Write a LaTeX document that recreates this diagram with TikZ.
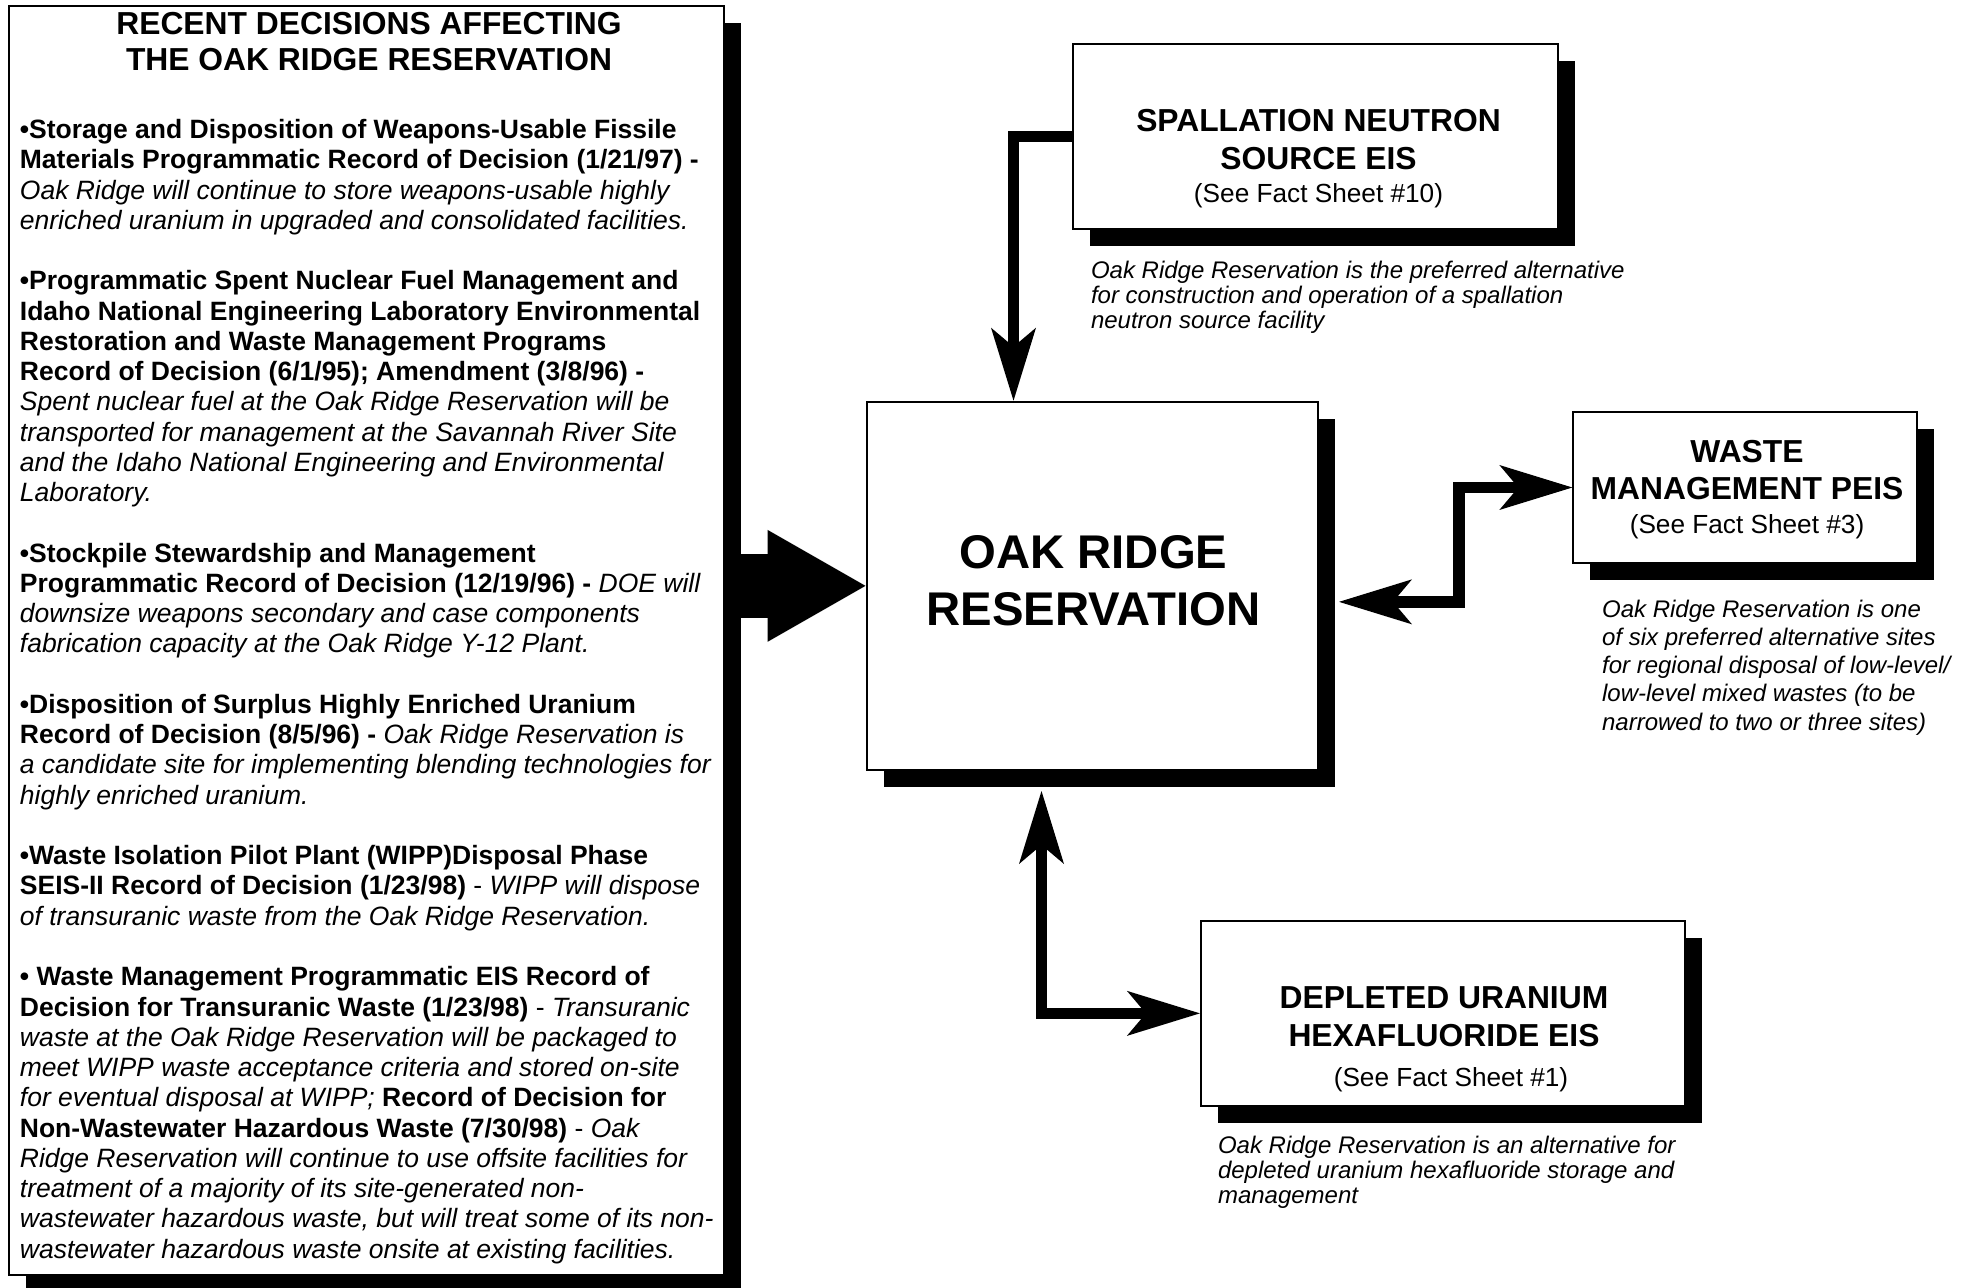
\documentclass[tikz,border=0pt]{standalone}
\usepackage{fontspec}
\setmainfont{Liberation Sans}
\usetikzlibrary{arrows.meta,shadows}
\newcommand\kopff{\fontsize{15.9}{19}\selectfont\bfseries}
\newcommand\zusatzf{\fontsize{13.1}{15}\selectfont}
\newcommand\notizf{\fontsize{12}{12.5}\selectfont\itshape}
\newcommand\listef{\fontsize{13.25}{15.13}\selectfont}
\newcommand\mittef{\fontsize{23.65}{28.35}\selectfont\bfseries}
\newcommand\fett[1]{{\bfseries #1}}
\newcommand\zusatz[4]{\node[anchor=base,inner sep=0,font=\zusatzf] (#1) at (#2,#3) {#4};}

\begin{document}
\begin{tikzpicture}[x=0.5pt,y=-0.5pt]
\useasboundingbox (0,0) rectangle (1969,1288);
\tikzset{kasten/.style={draw=black,line width=1pt,fill=white,inner sep=0,
    drop shadow={fill=black,opacity=1,shadow xshift=8.5pt,shadow yshift=-8.5pt}},
  kopf/.style={anchor=base,inner sep=0,align=center,font=\kopff},
  notiz/.style={anchor=base west,inner sep=0,align=left,font=\notizf},
  pfeil/.style={line width=5.75pt,-{Stealth[length=36.5pt,width=22.5pt,inset=9.5pt,line width'=0pt]}},
  pfeilb/.style={pfeil,{Stealth[length=36.5pt,width=22.5pt,inset=9.5pt,line width'=0pt]}-{Stealth[length=36.5pt,width=22.5pt,inset=9.5pt,line width'=0pt]}},
  blockpfeil/.style={line width=31.7pt,-{Triangle[length=49pt,width=56pt,line width'=0pt]}}}

% ---- Kaesten mit Schatten ----------------------------------------------------
\node[kasten,minimum width=357.5pt,minimum height=634.5pt] (nliste) at (366,640.5) {};
\node[kasten,minimum width=242.6pt,minimum height=92.75pt] (nsns) at (1315.4,136.75) {};
\node[kasten,minimum width=225.75pt,minimum height=184.15pt] (nor) at (1092.25,585.85) {};
\node[kasten,minimum width=171.7pt,minimum height=75.8pt] (nabfall) at (1745,487.5) {};
\node[kasten,minimum width=242.25pt,minimum height=92.35pt] (nuf6) at (1443.15,1013.35) {};

% ---- Pfeile -----------------------------------------------------------------
\draw[blockpfeil] (nliste.east |- nor.west) -- (nor.west);
\draw[pfeil] (nsns.west) -| ([xshift=74pt]nor.north west);
\draw[pfeilb] ([shift={(20,16)}]nor.east) -- ++(120,0) |- (nabfall.west);
\draw[pfeilb] ([shift={(176,20)}]nor.south west) |- (nuf6.west);

% ---- Liste der Entscheidungen (Grundlinie der letzten Zeile) -------------------
\node[kopf,font={\fontsize{15.9}{18}\selectfont\bfseries}] (tliste) at (369,70.5)
  {RECENT DECISIONS AFFECTING\\THE OAK RIDGE RESERVATION};
\node[anchor=base west,inner sep=0,align=left,font=\listef] (tpunkte) at (19.5,1258.1) {%
  \fett{\textbullet Storage and Disposition of Weapons-Usable Fissile}\\
  \fett{Materials Programmatic Record of Decision (1/21/97) -}\\
  \itshape Oak Ridge will continue to store weapons-usable highly\\
  \itshape enriched uranium in upgraded and consolidated facilities.\\[15.13pt]
  \fett{\textbullet Programmatic Spent Nuclear Fuel Management and}\\
  \fett{Idaho National Engineering Laboratory Environmental}\\
  \fett{Restoration and Waste Management Programs}\\
  \fett{Record of Decision (6/1/95); Amendment (3/8/96) -}\\
  \itshape Spent nuclear fuel at the Oak Ridge Reservation will be\\
  \itshape transported for management at the Savannah River Site\\
  \itshape and the Idaho National Engineering and Environmental\\
  \itshape Laboratory.\\[15.13pt]
  \fett{\textbullet Stockpile Stewardship and Management}\\
  \fett{Programmatic Record of Decision (12/19/96) -} \itshape DOE will\\
  \itshape downsize weapons secondary and case components\\
  \itshape fabrication capacity at the Oak Ridge Y-12 Plant.\\[15.13pt]
  \fett{\textbullet Disposition of Surplus Highly Enriched Uranium}\\
  \fett{Record of Decision (8/5/96) -} \itshape Oak Ridge Reservation is\\
  \itshape a candidate site for implementing blending technologies for\\
  \itshape highly enriched uranium.\\[15.13pt]
  \fett{\textbullet Waste Isolation Pilot Plant (WIPP)Disposal Phase}\\
  \fett{SEIS-II Record of Decision (1/23/98)} - \itshape WIPP will dispose\\
  \itshape of transuranic waste from the Oak Ridge Reservation.\\[15.13pt]
  \fett{\textbullet{} Waste Management Programmatic EIS Record of}\\
  \fett{Decision for Transuranic Waste (1/23/98)} - \itshape Transuranic\\
  \itshape waste at the Oak Ridge Reservation will be packaged to\\
  \itshape meet WIPP waste acceptance criteria and stored on-site\\
  \itshape for eventual disposal at WIPP; \upshape\fett{Record of Decision for}\\
  \fett{Non-Wastewater Hazardous Waste (7/30/98)} - \itshape Oak\\
  \itshape Ridge Reservation will continue to use offsite facilities for\\
  \itshape treatment of a majority of its site-generated non-\\
  \itshape wastewater hazardous waste, but will treat some of its non-\\
  \itshape wastewater hazardous waste onsite at existing facilities.};

% ---- Oak Ridge Reservation ---------------------------------------------------
\node[kopf,font=\mittef] (tor) at (1093.5,625) {OAK RIDGE\\RESERVATION};

% ---- Spallation Neutron Source ------------------------------------------------
\node[kopf] (tsns) at (1318.5,170) {SPALLATION NEUTRON\\SOURCE EIS};
\zusatz{zsns}{1318.5}{202.5}{(See Fact Sheet \#10)}
\node[notiz] (nzsns) at (1090.6,328.3) {Oak Ridge Reservation is the preferred alternative\\
  for construction and operation of a spallation\\neutron source facility};

% ---- Waste Management PEIS ----------------------------------------------------
\node[kopf,font={\fontsize{15.9}{18.4}\selectfont\bfseries}] (tabfall) at (1747,499.5)
  {WASTE\\MANAGEMENT PEIS};
\zusatz{zabfall}{1747}{533.3}{(See Fact Sheet \#3)}
\node[notiz,font={\fontsize{12}{14.05}\selectfont\itshape}] (nzabfall) at (1601.7,730)
  {Oak Ridge Reservation is one\\of six preferred alternative sites\\
  for regional disposal of low-level/\\low-level mixed wastes (to be\\
  narrowed to two or three sites)};

% ---- Depleted Uranium Hexafluoride -------------------------------------------
\node[kopf,font={\fontsize{15.9}{19.2}\selectfont\bfseries}] (tuf6) at (1444,1046.7)
  {DEPLETED URANIUM\\HEXAFLUORIDE EIS};
\zusatz{zuf6}{1451}{1086}{(See Fact Sheet \#1)}
\node[notiz] (nzuf6) at (1217.6,1203.3) {Oak Ridge Reservation is an alternative for\\
  depleted uranium hexafluoride storage and\\management};
\end{tikzpicture}
\end{document}
